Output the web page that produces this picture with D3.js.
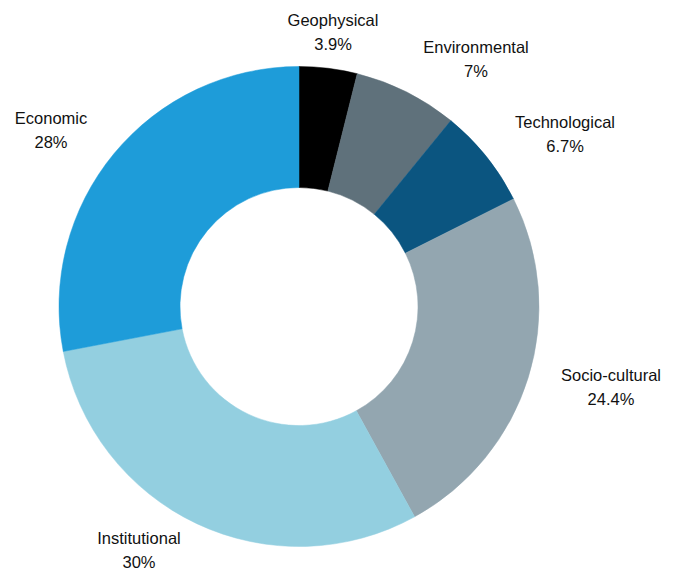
<!DOCTYPE html>
<html>
<head>
<meta charset="utf-8">
<script src="https://cdn.jsdelivr.net/npm/d3@7"></script>
<style>
  html, body { margin: 0; padding: 0; background: #fff; }
  svg { display: block; }
  text { font-family: "Liberation Sans", Arial, sans-serif; font-size: 16.5px; fill: #111; }
</style>
</head>
<body>
<svg id="chart" width="678" height="570"></svg>
<script>
// Share of factors by category (percent), clockwise from 12 o'clock
const categories = ["Geophysical", "Environmental", "Technological", "Socio-cultural", "Institutional", "Economic"];
const values = [3.9, 7, 6.7, 24.4, 30, 28];
const valueLabels = ["3.9%", "7%", "6.7%", "24.4%", "30%", "28%"];
const colors = ["#000000", "#5f717b", "#0b5580", "#93a6b0", "#93cfe0", "#1e9cd9"];

// Label anchor: centre x and baseline of the first line
const labelPos = [
  [333, 26], [476, 53], [565, 128], [611, 381], [139, 544], [51, 124]
];
const lineGap = 23.5;

const cx = 299, cy = 306.5;
const outerR = 240, innerR = 119;

const svg = d3.select("#chart");
const g = svg.append("g").attr("transform", `translate(${cx},${cy})`);

const data = categories.map((c, i) => ({ name: c, value: values[i], label: valueLabels[i], color: colors[i], pos: labelPos[i] }));

const pie = d3.pie().value(d => d.value).sort(null);
const arc = d3.arc().innerRadius(innerR).outerRadius(outerR);

g.selectAll("path.slice")
  .data(pie(data))
  .join("path")
  .attr("class", "slice")
  .attr("d", arc)
  .attr("fill", d => d.data.color)
  .attr("stroke", d => d.data.color)
  .attr("stroke-width", 0.5);

const labels = svg.selectAll("g.label")
  .data(data)
  .join("g")
  .attr("class", "label")
  .attr("transform", d => `translate(${d.pos[0]},${d.pos[1]})`);

labels.append("text")
  .attr("text-anchor", "middle")
  .attr("y", 0)
  .text(d => d.name);

labels.append("text")
  .attr("text-anchor", "middle")
  .attr("y", lineGap)
  .text(d => d.label);
</script>
</body>
</html>
